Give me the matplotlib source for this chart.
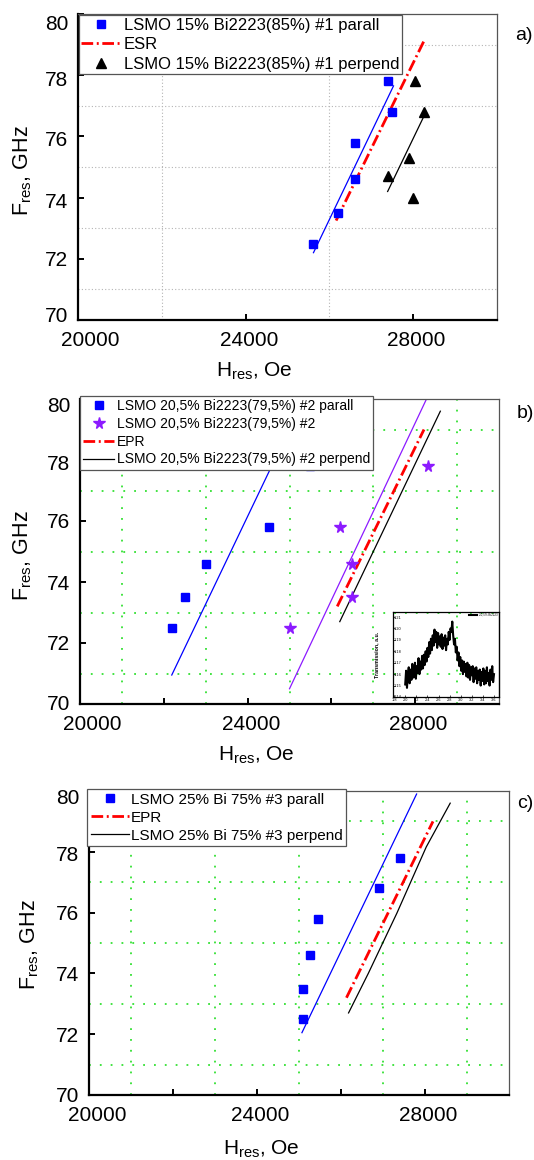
import numpy as np
import matplotlib
matplotlib.use('Agg')
import matplotlib.pyplot as plt
from matplotlib.transforms import ScaledTranslation

plt.rcParams['font.family'] = ['Liberation Sans', 'DejaVu Sans']
plt.rcParams['mathtext.fontset'] = 'custom'
plt.rcParams['mathtext.rm'] = 'Liberation Sans'
plt.rcParams['mathtext.it'] = 'Liberation Sans:italic'
plt.rcParams['mathtext.bf'] = 'Liberation Sans:bold'

# ---- a) LSMO 15% / Bi2223 85% ----
a_par_H = [25600, 26200, 26600, 26600, 27400, 27500]
a_par_F = [72.5, 73.5, 74.6, 75.8, 77.8, 76.8]
a_perp_H = [27400, 27900, 28000, 28050, 28250]
a_perp_F = [74.7, 75.3, 74.0, 77.8, 76.8]
a_par_fit_H = [25620, 27530]
a_par_fit_F = [72.2, 77.65]
a_perp_fit_H = [27390, 28270]
a_perp_fit_F = [74.2, 76.7]
a_esr_H = [26160, 28250]
a_esr_F = [73.25, 79.1]

# ---- b) LSMO 20,5% / Bi2223 79,5% ----
b_par_H = [22200, 22500, 23000, 24500, 25500]
b_par_F = [72.5, 73.5, 74.6, 75.8, 77.8]
b_star_H = [25000, 26500, 26500, 26200, 28300]
b_star_F = [72.5, 73.5, 74.6, 75.8, 77.8]
b_par_fit_H = [22190, 25340]
b_par_fit_F = [70.95, 80.0]
b_star_fit_H = [25000, 28270]
b_star_fit_F = [70.5, 80.0]
b_perp_fit_H = [26200, 28600]
b_perp_fit_F = [72.7, 79.6]
b_epr_H = [26140, 28210]
b_epr_F = [73.2, 79.0]

# transmission trace shown in the inset of b)
inset_signal = [
    1.151, 1.163, 1.148, 1.160, 1.166, 1.152, 1.164, 1.155, 1.169, 1.157,
    1.158, 1.170, 1.156, 1.167, 1.161, 1.174, 1.160, 1.171, 1.164, 1.176,
    1.165, 1.177, 1.168, 1.180, 1.171, 1.183, 1.175, 1.188, 1.178, 1.191,
    1.181, 1.194, 1.185, 1.199, 1.188, 1.197, 1.183, 1.196, 1.186, 1.193,
    1.184, 1.195, 1.182, 1.192, 1.185, 1.194, 1.181, 1.191, 1.186, 1.197,
    1.190, 1.200, 1.197, 1.206, 1.194, 1.186, 1.191, 1.179, 1.184, 1.172,
    1.179, 1.167, 1.175, 1.163, 1.172, 1.160, 1.171, 1.162, 1.169, 1.158,
    1.170, 1.157, 1.168, 1.155, 1.166, 1.159, 1.167, 1.153, 1.165, 1.156,
    1.166, 1.152, 1.163, 1.155, 1.164, 1.150, 1.162, 1.154, 1.165, 1.151,
    1.163, 1.152, 1.166, 1.154, 1.161, 1.150, 1.164, 1.155, 1.167, 1.153,
    1.160,
]
inset_field = np.linspace(2.0, 3.6, len(inset_signal))
inset_yticks = [1.14, 1.15, 1.16, 1.17, 1.18, 1.19, 1.20, 1.21]
inset_xticks = [1.8, 2.0, 2.2, 2.4, 2.6, 2.8, 3.0, 3.2, 3.4, 3.6]

# ---- c) LSMO 25% / Bi 75% ----
c_par_H = [25100, 25100, 25250, 25450, 26900, 27400]
c_par_F = [72.5, 73.5, 74.6, 75.8, 76.8, 77.8]
c_par_fit_H = [25070, 27800]
c_par_fit_F = [72.05, 79.9]
c_perp_fit_H = [26180, 26650, 27330, 28030, 28600]
c_perp_fit_F = [72.7, 74.0, 75.98, 78.16, 79.6]
c_epr_H = [26130, 28190]
c_epr_F = [73.2, 79.0]

W, H = 534, 1160
fig = plt.figure(figsize=(W / 100, H / 100), dpi=100)

BLUE = '#0000ff'
PURPLE = '#8c1aff'
RED = '#ff0000'
EPR_STYLE = dict(color=RED, lw=2.0, linestyle=(0, (4.2, 1.3, 0.7, 1.3)))


def px_axes(l, t, r, b):
    return fig.add_axes([l / W, 1 - b / H, (r - l) / W, (b - t) / H])


def px_shift(dx, dy):
    return ScaledTranslation(dx / 100, dy / 100, fig.dpi_scale_trans)


def style(ax, xmajor, xlabels, xminor, grid_kw, xoff, yoff, xlab_xy, ylab_xy):
    ax.set_xlim(20000, 30000)
    ax.set_ylim(70, 80)
    ax.set_xticks(xmajor)
    ax.set_xticklabels(xlabels)
    ax.set_xticks(xminor, minor=True)
    ax.set_yticks(range(70, 81, 2))
    ax.set_yticks(range(71, 80, 2), minor=True)
    ax.tick_params(which='major', direction='in', length=4, width=1.4,
                   labelsize=15, top=False, right=False)
    ax.tick_params(axis='x', which='major', pad=8)
    ax.tick_params(axis='y', which='major', pad=7)
    ax.tick_params(which='minor', length=0)
    ax.grid(True, which='minor', **grid_kw)
    ax.set_axisbelow(True)
    for s in ['left', 'bottom']:
        ax.spines[s].set_linewidth(1.6)
    for s in ['top', 'right']:
        ax.spines[s].set_linewidth(0.9)
        ax.spines[s].set_color('#555555')
    for lbl, dx in zip(ax.get_xticklabels(), xoff):
        lbl.set_transform(lbl.get_transform() + px_shift(dx, 0))
    for lbl, dy in zip(ax.get_yticklabels(), yoff):
        lbl.set_transform(lbl.get_transform() + px_shift(0, dy))
    ax.set_xlabel(r'$\mathregular{H_{res}}$, Oe', fontsize=15)
    ax.set_ylabel(r'$\mathregular{F_{res}}$, GHz', fontsize=15.5)
    ax.xaxis.set_label_coords(*xlab_xy)
    ax.yaxis.set_label_coords(*ylab_xy)


def box_legend(ax, handles, labels, left, top, **kw):
    leg = ax.legend(handles, labels, loc='upper left',
                    bbox_to_anchor=(left / W, 1 - top / H),
                    bbox_transform=fig.transFigure, borderaxespad=0,
                    numpoints=1, fancybox=False, framealpha=1,
                    edgecolor='#555555', **kw)
    leg.get_frame().set_linewidth(0.9)
    return leg


grid_gray = dict(color='#b4b4b4', linestyle=(0, (1, 2)), lw=0.8)
grid_green = dict(color='#33e033', linestyle=(0, (1, 5)), lw=1.3)

# ---------------- a) ----------------
ax1 = px_axes(78, 14, 497, 320)
ax1.plot(a_par_fit_H, a_par_fit_F, color=BLUE, lw=0.9)
ax1.plot(a_perp_fit_H, a_perp_fit_F, color='black', lw=0.9)
ax1.plot(a_esr_H, a_esr_F, label='ESR', **EPR_STYLE)
ax1.plot(a_par_H, a_par_F, 's', color=BLUE, ms=5.6, label='LSMO 15% Bi2223(85%) #1 parall')
ax1.plot(a_perp_H, a_perp_F, '^', color='black', ms=7.6, label='LSMO 15% Bi2223(85%) #1 perpend')
style(ax1, [20000, 24000, 28000], ['20000', '24000', '28000'], [22000, 26000],
      grid_gray, [12, 3.5, 3], [6, 0, -2.5, -2.5, -3, -8],
      (0.42, -0.132), (-0.105, 0.488))
h, l = ax1.get_legend_handles_labels()
box_legend(ax1, [h[1], h[0], h[2]], [l[1], l[0], l[2]], 78.5, 15,
           fontsize=12, handlelength=2.4, handletextpad=0.15, borderpad=0.17,
           labelspacing=0.26)
fig.text(515 / W, 1 - 35 / H, 'a)', fontsize=14, va='center', ha='left')

# ---------------- b) ----------------
ax2 = px_axes(80, 399, 499, 704)
ax2.plot(b_par_fit_H, b_par_fit_F, color=BLUE, lw=0.9)
ax2.plot(b_star_fit_H, b_star_fit_F, color=PURPLE, lw=0.9)
ax2.plot(b_epr_H, b_epr_F, label='EPR', **EPR_STYLE)
ax2.plot(b_perp_fit_H, b_perp_fit_F, color='black', lw=0.9,
         label='LSMO 20,5% Bi2223(79,5%) #2 perpend')
ax2.plot(b_par_H, b_par_F, 's', color=BLUE, ms=5.6, label='LSMO 20,5% Bi2223(79,5%) #2 parall')
ax2.plot(b_star_H, b_star_F, '*', color=PURPLE, ms=8.5, label='LSMO 20,5% Bi2223(79,5%) #2')
style(ax2, [20000, 22000, 24000, 26000, 28000], ['20000', '', '24000', '', '28000'],
      list(range(21000, 30000, 2000)), grid_green, [12, 0, 3.5, 0, 3],
      [2, 0, 0, 0, -2, -5], (0.42, -0.135), (-0.11, 0.487))
h, l = ax2.get_legend_handles_labels()
order = [2, 3, 0, 1]
box_legend(ax2, [h[i] for i in order], [l[i] for i in order], 80, 396,
           fontsize=10, handlelength=2.25, handletextpad=0.15, borderpad=0.23,
           labelspacing=0.27)
fig.text(517 / W, 1 - 413 / H, 'b)', fontsize=14, va='center', ha='left')

# inset: transmission spectrum
axin = px_axes(393, 612, 499, 697)
axin.set_facecolor('none')
axin.plot(inset_field, inset_signal, color='black', lw=1.5, label='20,5% Bi2223')
axin.set_xlim(1.78, 3.69)
axin.set_ylim(1.14, 1.2144)
axin.set_yticks(inset_yticks)
axin.set_yticklabels(['%.2f' % v for v in inset_yticks])
axin.set_xticks(inset_xticks)
axin.set_xticklabels(['%.1f' % v for v in inset_xticks])
axin.tick_params(axis='y', direction='in', length=1.5, width=0.5, pad=-6, labelsize=2.8)
axin.tick_params(axis='x', direction='in', length=1.5, width=0.5, pad=1, labelsize=2.8)
for s in axin.spines.values():
    s.set_linewidth(0.9)
axin.set_ylabel('Transmission, a.u.', fontsize=3.8, fontweight='bold')
axin.yaxis.set_label_coords(-0.13, 0.5)
axin.legend(loc='upper right', fontsize=2.2, handlelength=2.5, frameon=False,
            borderpad=0.2, borderaxespad=0.1)

# ---------------- c) ----------------
ax3 = px_axes(89, 791, 509, 1095)
ax3.plot(c_par_fit_H, c_par_fit_F, color=BLUE, lw=0.9)
ax3.plot(c_epr_H, c_epr_F, label='EPR', **EPR_STYLE)
ax3.plot(c_perp_fit_H, c_perp_fit_F, color='black', lw=0.9,
         label='LSMO 25% Bi 75% #3 perpend')
ax3.plot(c_par_H, c_par_F, 's', color=BLUE, ms=5.8, label='LSMO 25% Bi 75% #3 parall')
style(ax3, [20000, 22000, 24000, 26000, 28000], ['20000', '', '24000', '', '28000'],
      list(range(21000, 30000, 2000)), grid_green, [8.5, 0, 3.5, 0, 3],
      [1, 0, 0, 0, -2, -5], (0.41, -0.145), (-0.114, 0.493))
h, l = ax3.get_legend_handles_labels()
order = [2, 0, 1]
box_legend(ax3, [h[i] for i in order], [l[i] for i in order], 87.3, 789,
           fontsize=11, handlelength=2.5, handletextpad=0.11, borderpad=0.23,
           labelspacing=0.27)
fig.text(517 / W, 1 - 803 / H, 'c)', fontsize=14, va='center', ha='left')

fig.savefig('out.png', dpi=100)
